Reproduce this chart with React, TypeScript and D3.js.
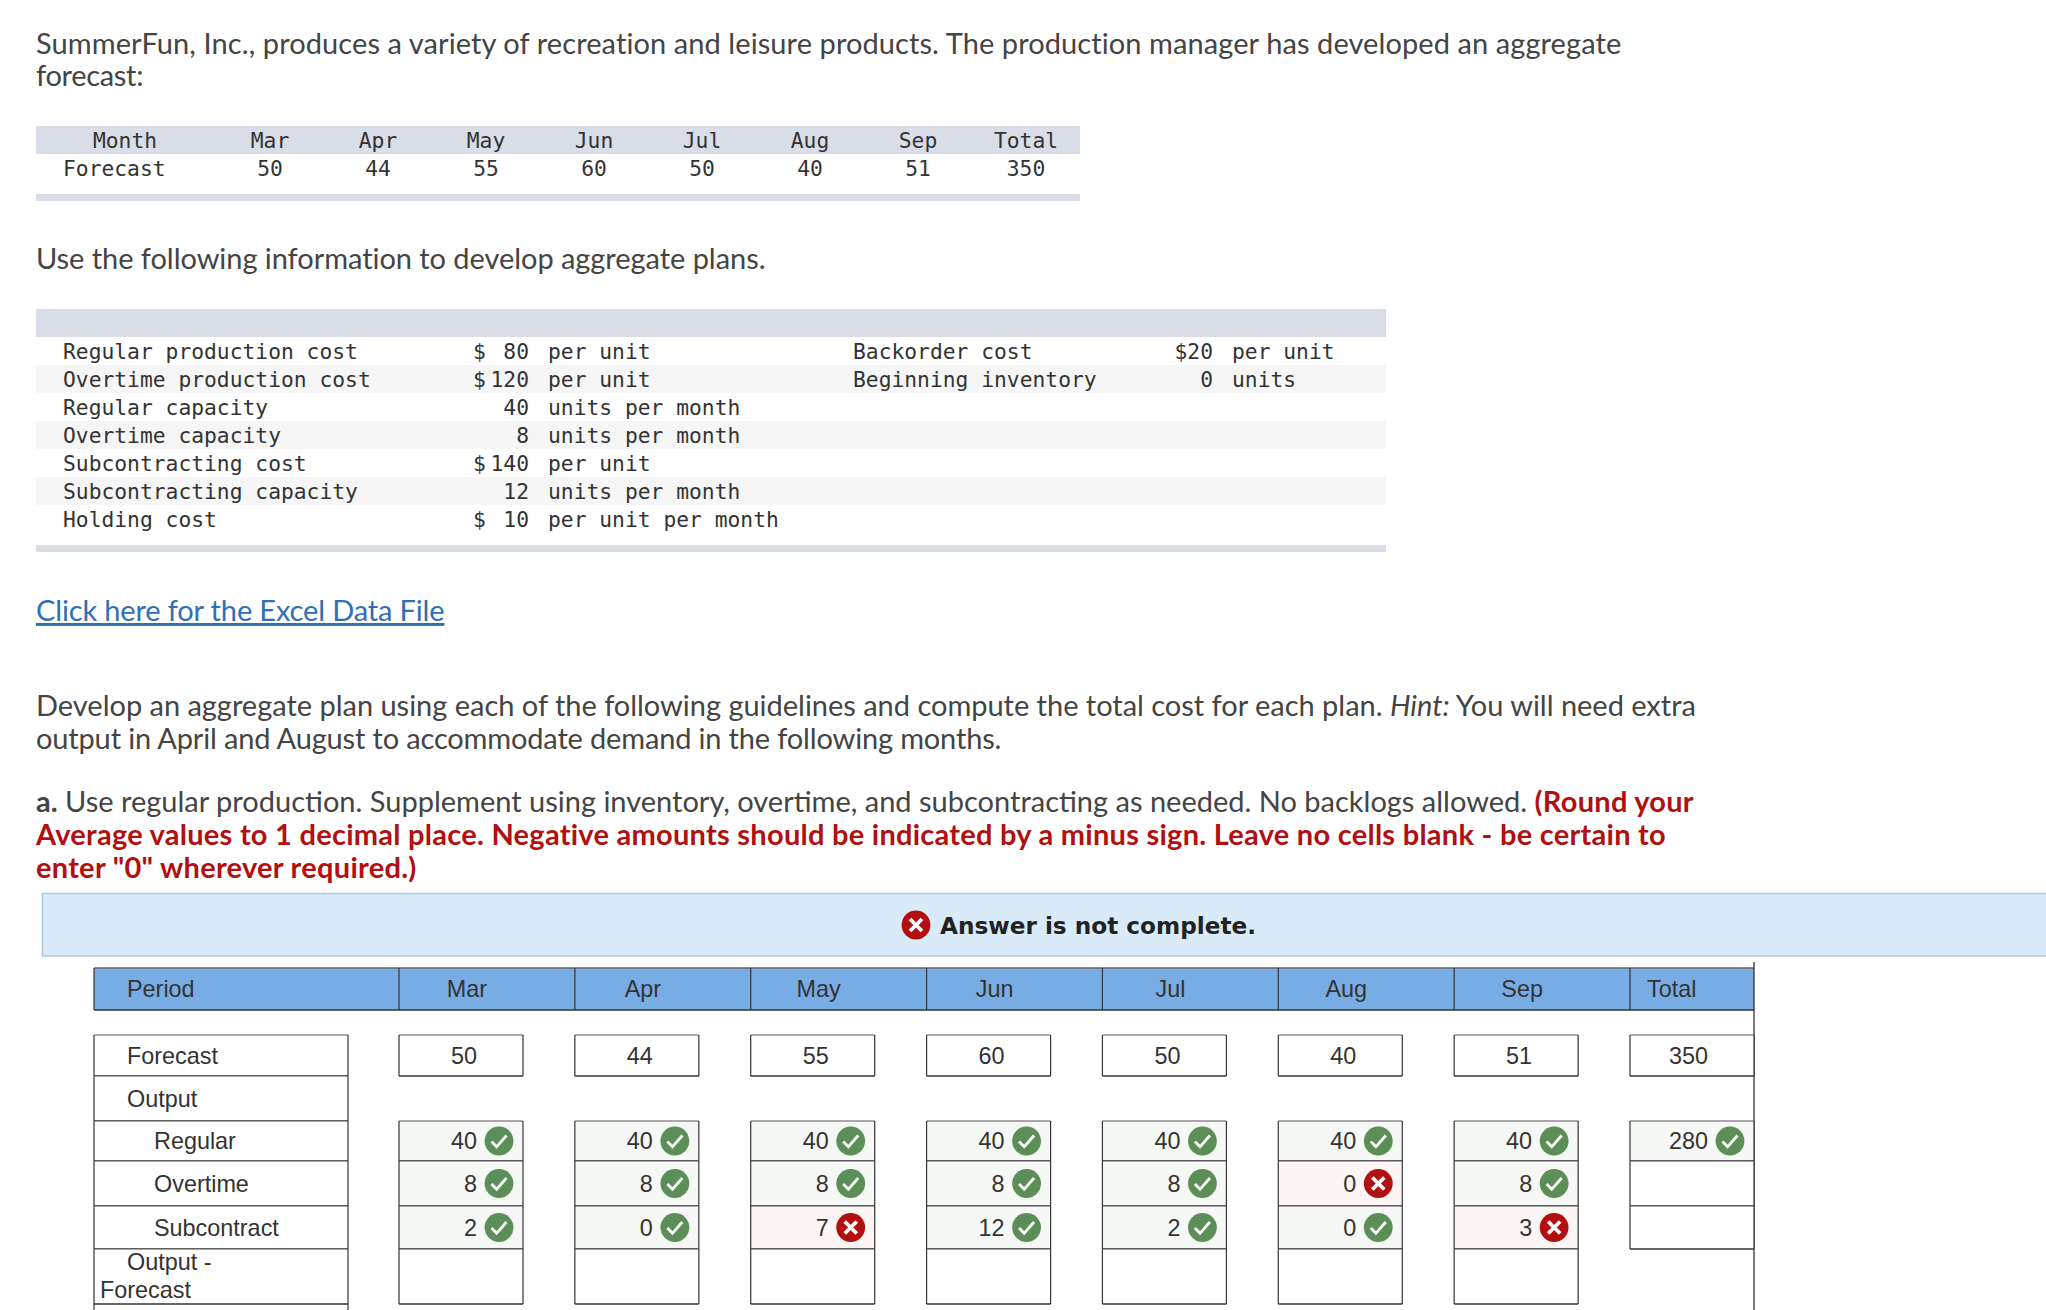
import { useMemo } from "react";
import * as d3 from "d3";

const months = ["Mar", "Apr", "May", "Jun", "Jul", "Aug", "Sep"];
const forecast = [50, 44, 55, 60, 50, 40, 51];
const forecastTotal = 350;
const regular = [40, 40, 40, 40, 40, 40, 40];
const regularTotal = 280;
const overtime = [8, 8, 8, 8, 8, 0, 8];
const subcontract = [2, 0, 7, 12, 2, 0, 3];
const overtimeOk = [true, true, true, true, true, false, true];
const subcontractOk = [true, true, false, true, true, true, false];

const infoLabels = [
  "Regular production cost",
  "Overtime production cost",
  "Regular capacity",
  "Overtime capacity",
  "Subcontracting cost",
  "Subcontracting capacity",
  "Holding cost",
];
const infoDollar = [true, true, false, false, true, false, true];
const infoAmounts = ["80", "120", "40", "8", "140", "12", "10"];
const infoUnits = ["per unit", "per unit", "units per month", "units per month", "per unit", "units per month", "per unit per month"];
const sideLabels = ["Backorder cost", "Beginning inventory"];
const sideAmounts = ["$20", "0"];
const sideUnits = ["per unit", "units"];

const SANS = "Lato, sans-serif";
const MONO = "'DejaVu Sans Mono', monospace";
const ARIAL = "'Liberation Sans', Arial, sans-serif";
const TEXT = "#444";
const BAND = "#d8dde8";
const GREEN = "#5c8f58";
const RED = "#b20f10";
const LINE = "#333";

function Badge({ cx, cy, ok }: { cx: number; cy: number; ok: boolean }) {
  return (
    <g transform={`translate(${cx},${cy})`}>
      <circle r={14.4} fill={ok ? GREEN : RED} />
      {ok ? (
        <path d="M-7.5,0.5 L-2.4,5.8 L7.5,-5.5" fill="none" stroke="#fff" strokeWidth={2.8} />
      ) : (
        <path d="M-6,-6 L6,6 M6,-6 L-6,6" fill="none" stroke="#fff" strokeWidth={3.8} />
      )}
    </g>
  );
}

function Box({ x, y, w, h, fill = "#fff" }: { x: number; y: number; w: number; h: number; fill?: string }) {
  return (
    <g>
      <rect x={x} y={y} width={w} height={h} fill={fill} />
      <line x1={x} x2={x + w} y1={y} y2={y} stroke="#555" strokeWidth={1.2} />
      <line x1={x} x2={x + w} y1={y + h} y2={y + h} stroke={LINE} strokeWidth={1.6} />
      <line x1={x} x2={x} y1={y} y2={y + h} stroke={LINE} strokeWidth={1.2} />
      <line x1={x + w} x2={x + w} y1={y} y2={y + h} stroke={LINE} strokeWidth={1.2} />
    </g>
  );
}

export default function App() {
  const topX = useMemo(() => d3.scalePoint<string>().domain([...months, "Total"]).range([270, 1026]), []);
  const infoY = useMemo(() => d3.scaleBand<number>().domain(d3.range(7)).range([337, 533]), []);
  const colX = useMemo(() => d3.scalePoint<string>().domain([...months, "Total"]).range([399, 1630]), []);
  const boxW = 124;

  const rowTop = { forecast: 1035, output: 1076, regular: 1121, overtime: 1161, subcontract: 1206, diff: 1249, end: 1304 };
  const rows = [
    { label: "Regular", y0: rowTop.regular, y1: rowTop.overtime, values: regular, ok: months.map(() => true) },
    { label: "Overtime", y0: rowTop.overtime, y1: rowTop.subcontract, values: overtime, ok: overtimeOk },
    { label: "Subcontract", y0: rowTop.subcontract, y1: rowTop.diff, values: subcontract, ok: subcontractOk },
  ];

  return (
    <svg
      width={2046}
      height={1310}
      viewBox="0 0 2046 1310"
      style={{ position: "absolute", left: 0, top: 0, display: "block", background: "#fff" }}
    >
      <g fontFamily={SANS} fontSize={29} fill={TEXT}>
        <text x={36} y={54} letterSpacing={0.085}>SummerFun, Inc., produces a variety of recreation and leisure products. The production manager has developed an aggregate</text>
        <text x={36} y={86} letterSpacing={-0.3}>forecast:</text>
        <text x={36} y={269} letterSpacing={-0.05}>Use the following information to develop aggregate plans.</text>
        <text x={36} y={621} fill="#2f6fb5" textDecoration="underline" letterSpacing={-0.15}>Click here for the Excel Data File</text>
        <text x={36} y={716} letterSpacing={-0.02}>
          Develop an aggregate plan using each of the following guidelines and compute the total cost for each plan. <tspan fontStyle="italic">Hint:</tspan> You will need extra
        </text>
        <text x={36} y={749} letterSpacing={-0.16}>output in April and August to accommodate demand in the following months.</text>
        <text x={36} y={812}>
          <tspan fontWeight={700}>a.</tspan> Use regular production. Supplement using inventory, overtime, and subcontracting as needed. No backlogs allowed. <tspan fontWeight={700} fill={RED} letterSpacing={0.26}>(Round your</tspan>
        </text>
        <text x={36} y={845} fontWeight={700} fill={RED} letterSpacing={0.26}>Average values to 1 decimal place. Negative amounts should be indicated by a minus sign. Leave no cells blank - be certain to</text>
        <text x={36} y={878} fontWeight={700} fill={RED} letterSpacing={0.27}>enter "0" wherever required.)</text>
      </g>

      {/* forecast table */}
      <rect x={36} y={126} width={1044} height={28} fill={BAND} />
      <rect x={36} y={194} width={1044} height={7} fill={BAND} />
      <g fontFamily={MONO} fontSize={21.3} fill="#333">
        <text x={125} y={148} textAnchor="middle">Month</text>
        <text x={63} y={176}>Forecast</text>
        {months.map((m, i) => (
          <g key={m} textAnchor="middle">
            <text x={topX(m)} y={148}>{m}</text>
            <text x={topX(m)} y={176}>{forecast[i]}</text>
          </g>
        ))}
        <text x={topX("Total")} y={148} textAnchor="middle">Total</text>
        <text x={topX("Total")} y={176} textAnchor="middle">{forecastTotal}</text>
      </g>

      {/* information table */}
      <rect x={36} y={309} width={1350} height={28} fill={BAND} />
      <rect x={36} y={545} width={1350} height={7} fill={BAND} />
      {infoLabels.map((_, i) =>
        i % 2 === 1 ? <rect key={i} x={36} y={infoY(i)} width={1350} height={infoY.bandwidth()} fill="#f6f6f6" /> : null
      )}
      <g fontFamily={MONO} fontSize={21.3} fill="#333">
        {infoLabels.map((label, i) => {
          const y = (infoY(i) ?? 0) + 22;
          return (
            <g key={label}>
              <text x={63} y={y}>{label}</text>
              {infoDollar[i] ? <text x={473} y={y}>$</text> : null}
              <text x={529} y={y} textAnchor="end">{infoAmounts[i]}</text>
              <text x={548} y={y}>{infoUnits[i]}</text>
            </g>
          );
        })}
        {sideLabels.map((label, i) => {
          const y = (infoY(i) ?? 0) + 22;
          return (
            <g key={label}>
              <text x={853} y={y}>{label}</text>
              <text x={1213} y={y} textAnchor="end">{sideAmounts[i]}</text>
              <text x={1232} y={y}>{sideUnits[i]}</text>
            </g>
          );
        })}
      </g>

      {/* answer banner */}
      <rect x={42.5} y={893.5} width={2010} height={62.5} fill="#d9ebf9" stroke="#a9c8e4" strokeWidth={1.5} />
      <Badge cx={916} cy={925} ok={false} />
      <text x={940} y={934} fontFamily="'DejaVu Sans', sans-serif" fontWeight={700} fontSize={23.2} fill="#222">Answer is not complete.</text>

      {/* plan table header */}
      <rect x={94} y={968} width={1660} height={42} fill="#78ace5" />
      <line x1={94} x2={1754} y1={968} y2={968} stroke="#666" strokeWidth={1.5} />
      <line x1={94} x2={1754} y1={1010} y2={1010} stroke={LINE} strokeWidth={1.6} />
      <line x1={94} x2={94} y1={968} y2={1010} stroke={LINE} strokeWidth={1.2} />
      <line x1={1754} x2={1754} y1={962} y2={1310} stroke="#222" strokeWidth={1.2} />
      <g fontFamily={ARIAL} fontSize={23.4} fill="#333">
        <text x={127} y={997}>Period</text>
        {months.map((m) => (
          <g key={m}>
            <line x1={colX(m)} x2={colX(m)} y1={968} y2={1010} stroke={LINE} strokeWidth={1.2} />
            <text x={(colX(m) ?? 0) + 68} y={997} textAnchor="middle">{m}</text>
          </g>
        ))}
        <line x1={colX("Total")} x2={colX("Total")} y1={968} y2={1010} stroke={LINE} strokeWidth={1.2} />
        <text x={1647} y={997}>Total</text>

        {/* row labels */}
        <Box x={94} y={rowTop.forecast} w={254} h={rowTop.output - rowTop.forecast} />
        <text x={127} y={1064}>Forecast</text>
        <Box x={94} y={rowTop.output} w={254} h={rowTop.regular - rowTop.output} />
        <text x={127} y={1107}>Output</text>
        {rows.map((r) => (
          <g key={r.label}>
            <Box x={94} y={r.y0} w={254} h={r.y1 - r.y0} />
            <text x={154} y={(r.y0 + r.y1) / 2 + 8}>{r.label}</text>
          </g>
        ))}
        <Box x={94} y={rowTop.diff} w={254} h={rowTop.end - rowTop.diff} />
        <text x={127} y={1270}>Output -</text>
        <text x={100} y={1298}>Forecast</text>
        <line x1={94} x2={94} y1={rowTop.end} y2={1310} stroke={LINE} strokeWidth={1.2} />
        <line x1={348} x2={348} y1={rowTop.end} y2={1310} stroke={LINE} strokeWidth={1.2} />

        {/* forecast inputs */}
        {months.map((m, i) => {
          const x = colX(m) ?? 0;
          return (
            <g key={m}>
              <Box x={x} y={rowTop.forecast} w={boxW} h={rowTop.output - rowTop.forecast} />
              <text x={x + boxW - 46} y={1064} textAnchor="end">{forecast[i]}</text>
            </g>
          );
        })}
        <Box x={colX("Total") ?? 0} y={rowTop.forecast} w={boxW} h={rowTop.output - rowTop.forecast} />
        <text x={1708} y={1064} textAnchor="end">{forecastTotal}</text>

        {/* graded rows */}
        {rows.map((r) =>
          months.map((m, i) => {
            const x = colX(m) ?? 0;
            const cy = (r.y0 + r.y1) / 2;
            return (
              <g key={r.label + m}>
                <Box x={x} y={r.y0} w={boxW} h={r.y1 - r.y0} fill={r.ok[i] ? "#f6f8f6" : "#fdf5f4"} />
                <text x={x + boxW - 46} y={cy + 8} textAnchor="end">{r.values[i]}</text>
                <Badge cx={x + boxW - 24} cy={cy} ok={r.ok[i]} />
              </g>
            );
          })
        )}
        <Box x={colX("Total") ?? 0} y={rowTop.regular} w={boxW} h={rowTop.overtime - rowTop.regular} fill="#f6f8f6" />
        <text x={1708} y={1149} textAnchor="end">{regularTotal}</text>
        <Badge cx={1730} cy={1141} ok={true} />
        <Box x={colX("Total") ?? 0} y={rowTop.overtime} w={boxW} h={rowTop.subcontract - rowTop.overtime} />
        <Box x={colX("Total") ?? 0} y={rowTop.subcontract} w={boxW} h={rowTop.diff - rowTop.subcontract} />

        {/* empty output minus forecast inputs */}
        {months.map((m) => (
          <Box key={m} x={colX(m) ?? 0} y={rowTop.diff} w={boxW} h={rowTop.end - rowTop.diff} />
        ))}
      </g>
    </svg>
  );
}
